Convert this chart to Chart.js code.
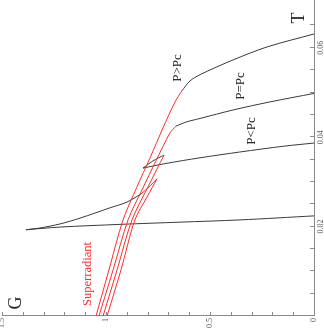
<!DOCTYPE html>
<html>
<head>
<meta charset="utf-8">
<script src="https://cdn.jsdelivr.net/npm/chart.js@4.4.0/dist/chart.umd.min.js"></script>
<style>
html, body { margin: 0; padding: 0; background: #fff; overflow: hidden; }
#wrap { width: 324px; height: 330px; position: relative; overflow: hidden; }
/* chart is drawn with T horizontal, then turned a quarter left like the figure */
#chart { position: absolute; left: 0; top: 0; transform-origin: 0 0; transform: translateY(330px) rotate(-90deg); }
</style>
</head>
<body>
<div id="wrap"><canvas id="chart" width="330" height="324"></canvas></div>
<script>
// P > Pc
const tRedA = [0, 0.0103, 0.0215, 0.0289, 0.0354, 0.0421, 0.0479, 0.0504];
const gRedA = [1.048, 0.986, 0.918, 0.851, 0.788, 0.726, 0.668, 0.635];
const tBlackA = [0.0504, 0.0526, 0.0540, 0.0573, 0.0602, 0.0631];
const gBlackA = [0.635, 0.596, 0.548, 0.389, 0.226, 0];

// P = Pc
const tRedB = [0, 0.0103, 0.0215, 0.0282, 0.0347, 0.0410, 0.0425];
const gRedB = [1.034, 0.966, 0.894, 0.827, 0.760, 0.692, 0.663];
const tBlackB = [0.0425, 0.0434, 0.0442, 0.0461, 0.0479, 0.0498];
const gBlackB = [0.663, 0.615, 0.548, 0.389, 0.212, 0];

// P < Pc
const tRedC = [0, 0.0103, 0.0215, 0.0289, 0.0360];
const gRedC = [1.014, 0.947, 0.875, 0.798, 0.721];
const tMidC = [0.0360, 0.0347, 0.0331];
const gMidC = [0.721, 0.774, 0.822];
const tLargeC = [0.0331, 0.0341, 0.0354, 0.0367, 0.0380, 0.0387];
const gLargeC = [0.822, 0.716, 0.548, 0.356, 0.144, 0];

// lowest pressure
const tRedD = [0, 0.0103, 0.0215, 0.0266, 0.0307];
const gRedD = [0.995, 0.928, 0.861, 0.803, 0.755];
const tRedMidD = [0.0307, 0.0291, 0.0273];
const gRedMidD = [0.755, 0.788, 0.832];
const tMidD = [0.0273, 0.0255, 0.0242, 0.0219, 0.0206, 0.0197, 0.0193];
const gMidD = [0.832, 0.899, 0.981, 1.125, 1.221, 1.317, 1.385];
const tLargeD = [0.0193, 0.0199, 0.0205, 0.0210, 0.0215, 0.0224];
const gLargeD = [1.385, 1.221, 0.933, 0.644, 0.356, 0];

// axis ticks
const tLabelTicks = [0.02, 0.04, 0.06];
const gLabelTicks = [0, 0.5, 1, 1.5];

const red = '#ff2a2a';
const black = '#3a3a3a';
const axisColor = '#8a8a8a';
const serif = '"Liberation Serif", "DejaVu Serif", serif';

function seg(t, g, color) {
    return {
        data: t.map((v, i) => ({ x: v, y: g[i] })),
        borderColor: color,
        borderWidth: 1,
        showLine: true,
        pointRadius: 0,
        tension: 0.3
    };
}

function isOn(v, list) {
    return list.some(l => Math.abs(v - l) < 1e-6);
}

// inward tick marks and the text written on the plot
const decorations = {
    id: 'decorations',
    afterDraw(chart) {
        const ctx = chart.ctx;
        const area = chart.chartArea;
        const xs = chart.scales.x;
        const ys = chart.scales.y;
        ctx.save();
        ctx.strokeStyle = axisColor;
        ctx.lineWidth = 1;
        ctx.beginPath();
        xs.ticks.forEach(t => {
            if (Math.abs(t.value / 0.005 - Math.round(t.value / 0.005)) > 1e-4) return;
            const px = Math.round(xs.getPixelForValue(t.value)) + 0.5;
            ctx.moveTo(px, area.bottom);
            ctx.lineTo(px, area.bottom - 4);
        });
        ys.ticks.forEach(t => {
            const py = Math.round(ys.getPixelForValue(t.value)) + 0.5;
            ctx.moveTo(area.left, py);
            ctx.lineTo(area.left + 4, py);
        });
        ctx.stroke();

        ctx.textAlign = 'center';
        ctx.textBaseline = 'middle';
        ctx.fillStyle = '#222';
        ctx.font = '18px ' + serif;
        ctx.fillText('T', 312, 299);
        ctx.fillText('G', 27, 16);
        ctx.font = '13px ' + serif;
        ctx.fillText('P>Pc', 262, 178);
        ctx.fillText('P=Pc', 244, 241);
        ctx.fillText('P<Pc', 199, 252);
        ctx.fillStyle = red;
        ctx.font = '12.5px ' + serif;
        ctx.fillText('Superradiant', 56, 87.5);
        ctx.restore();
    }
};

new Chart(document.getElementById('chart'), {
    type: 'scatter',
    data: {
        datasets: [
            seg(tRedA, gRedA, red),
            seg(tBlackA, gBlackA, black),
            seg(tRedB, gRedB, red),
            seg(tBlackB, gBlackB, black),
            seg(tRedC, gRedC, red),
            seg(tMidC, gMidC, black),
            seg(tLargeC, gLargeC, black),
            seg(tRedD, gRedD, red),
            seg(tRedMidD, gRedMidD, red),
            seg(tMidD, gMidD, black),
            seg(tLargeD, gLargeD, black)
        ]
    },
    options: {
        responsive: false,
        animation: false,
        layout: { padding: { top: 2, right: 0, left: 0, bottom: 0 } },
        plugins: { legend: { display: false }, tooltip: { enabled: false } },
        scales: {
            x: {
                type: 'linear',
                min: 0,
                max: 0.0707,
                grid: { display: false, drawTicks: false },
                border: { display: true, color: axisColor, width: 1 },
                ticks: {
                    stepSize: 0.005,
                    autoSkip: false,
                    maxRotation: 0,
                    padding: 2,
                    color: '#555',
                    font: { size: 8, family: serif },
                    callback: v => isOn(v, tLabelTicks) ? v.toFixed(2) : ''
                },
                afterFit: s => { s.height = 10; s.paddingLeft = 0; s.paddingRight = 0; }
            },
            y: {
                type: 'linear',
                min: 0,
                max: 1.5,
                grid: { display: false, drawTicks: false },
                border: { display: true, color: axisColor, width: 1 },
                ticks: {
                    stepSize: 0.1,
                    autoSkip: false,
                    padding: 2,
                    color: '#555',
                    font: { size: 8, family: serif },
                    callback: v => isOn(v, gLabelTicks) ? String(Math.round(v * 10) / 10) : ''
                },
                afterFit: s => { s.width = 14; s.paddingTop = 0; s.paddingBottom = 0; }
            }
        }
    },
    plugins: [decorations]
});
</script>
</body>
</html>
